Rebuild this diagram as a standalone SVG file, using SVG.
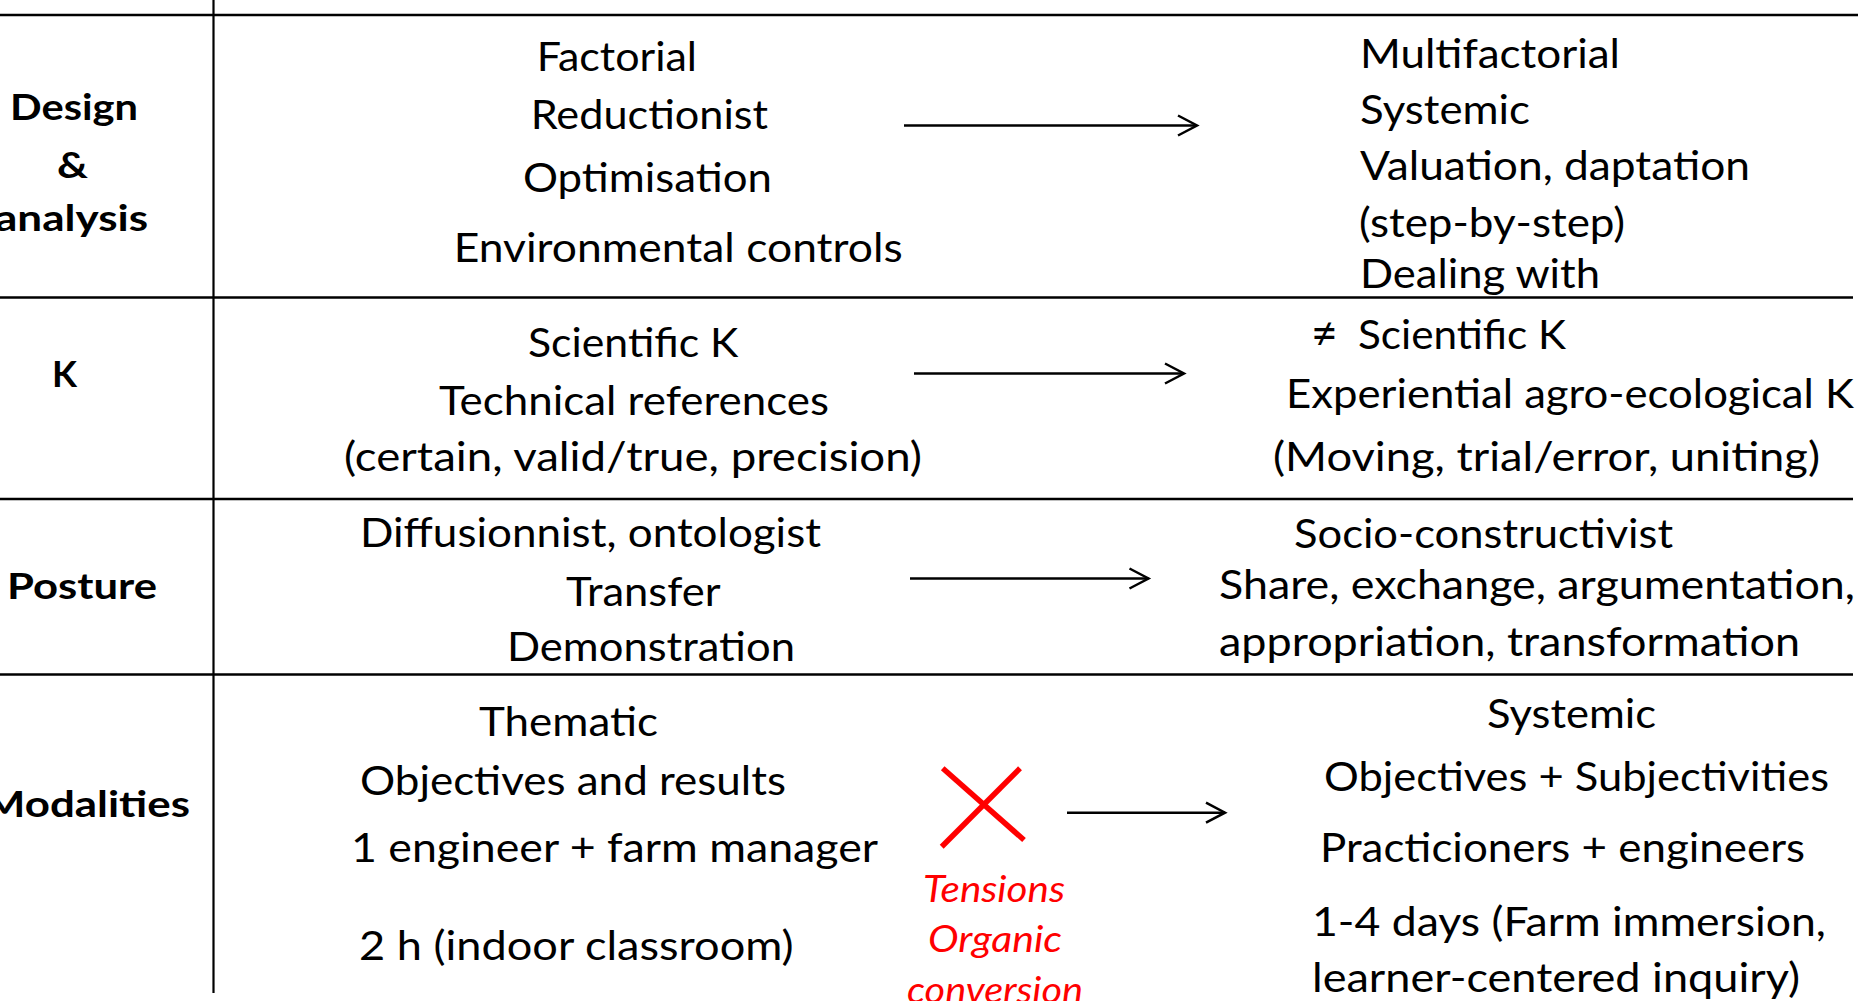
<svg xmlns="http://www.w3.org/2000/svg" width="1862" height="1001" viewBox="0 0 1862 1001">
<style>
text{font-family:Lato,"Liberation Sans",sans-serif;fill:#000;font-size:41px}
.b{font-weight:bold;font-size:37px}
.r{fill:#f00;font-style:italic;font-size:36px}
.grid line{stroke:#000;stroke-width:2.5}
.arr{stroke:#000;stroke-width:2.5;fill:none}
.x{stroke:#f00;stroke-width:5.5}
</style>
<defs>
<marker id="ah" markerUnits="userSpaceOnUse" viewBox="0 0 24 24" refX="21" refY="12" markerWidth="24" markerHeight="24" orient="auto">
<path d="M2,2 L21,12 L2,22" fill="none" stroke="#000" stroke-width="2.5"/>
</marker>
</defs>
<rect width="1862" height="1001" fill="#fff"/>
<g id="grid" class="grid">
<line x1="0" y1="15" x2="1858" y2="15"/>
<line x1="0" y1="297.5" x2="1853" y2="297.5"/>
<line x1="0" y1="499" x2="1853" y2="499"/>
<line x1="0" y1="674.5" x2="1853" y2="674.5"/>
<line x1="213.5" y1="0" x2="213.5" y2="993" style="stroke-width:2.2"/>
</g>
<g id="labels">
<g id="label-design">
<text class="b" x="10" y="120" textLength="128" lengthAdjust="spacingAndGlyphs">Design</text>
<text class="b" x="57" y="177.5" textLength="31" lengthAdjust="spacingAndGlyphs">&amp;</text>
<text class="b" x="-5" y="231" textLength="153" lengthAdjust="spacingAndGlyphs">analysis</text>
</g>
<g id="label-k"><text class="b" x="52" y="387" textLength="25" lengthAdjust="spacingAndGlyphs">K</text></g>
<g id="label-posture"><text class="b" x="7" y="598.5" textLength="150" lengthAdjust="spacingAndGlyphs">Posture</text></g>
<g id="label-modalities"><text class="b" x="-16" y="817" textLength="206" lengthAdjust="spacingAndGlyphs">Modalities</text></g>
</g>
<g id="design-before">
<text x="536.7" y="70.5" textLength="160.3" lengthAdjust="spacingAndGlyphs">Factorial</text>
<text x="530.7" y="129" textLength="237.3" lengthAdjust="spacingAndGlyphs">Reductionist</text>
<text x="523" y="191.5" textLength="249" lengthAdjust="spacingAndGlyphs">Optimisation</text>
<text x="453.7" y="261.7" textLength="449" lengthAdjust="spacingAndGlyphs">Environmental controls</text>
</g>
<g id="design-after">
<text x="1360" y="68.3" textLength="260" lengthAdjust="spacingAndGlyphs">Multifactorial</text>
<text x="1360" y="123.5" textLength="170" lengthAdjust="spacingAndGlyphs">Systemic</text>
<text x="1360" y="180" textLength="390" lengthAdjust="spacingAndGlyphs">Valuation, daptation</text>
<text x="1359" y="236.5" textLength="266" lengthAdjust="spacingAndGlyphs">(step-by-step)</text>
<text x="1360" y="288" textLength="240" lengthAdjust="spacingAndGlyphs">Dealing with</text>
</g>
<g id="k-before">
<text x="528" y="356.7" textLength="210.4" lengthAdjust="spacingAndGlyphs">Scientific K</text>
<text x="439" y="415" textLength="390" lengthAdjust="spacingAndGlyphs">Technical references</text>
<text x="344" y="471" textLength="578" lengthAdjust="spacingAndGlyphs">(certain, valid/true, precision)</text>
</g>
<g id="k-after">
<text y="349"><tspan x="1311" style="font-size:46px">≠ </tspan><tspan x="1358" textLength="208" lengthAdjust="spacingAndGlyphs">Scientific K</tspan></text>
<text x="1286" y="408.3" textLength="568" lengthAdjust="spacingAndGlyphs">Experiential agro-ecological K</text>
<text x="1273" y="471" textLength="547" lengthAdjust="spacingAndGlyphs">(Moving, trial/error, uniting)</text>
</g>
<g id="posture-before">
<text x="360" y="546.7" textLength="461" lengthAdjust="spacingAndGlyphs">Diffusionnist, ontologist</text>
<text x="566" y="606" textLength="154.6" lengthAdjust="spacingAndGlyphs">Transfer</text>
<text x="507" y="660.7" textLength="288" lengthAdjust="spacingAndGlyphs">Demonstration</text>
</g>
<g id="posture-after">
<text x="1294" y="547.5" textLength="379" lengthAdjust="spacingAndGlyphs">Socio-constructivist</text>
<text x="1219" y="599" textLength="636" lengthAdjust="spacingAndGlyphs">Share, exchange, argumentation,</text>
<text x="1219" y="656" textLength="581" lengthAdjust="spacingAndGlyphs">appropriation, transformation</text>
</g>
<g id="modalities-before">
<text x="479" y="736" textLength="179" lengthAdjust="spacingAndGlyphs">Thematic</text>
<text x="360" y="795" textLength="426" lengthAdjust="spacingAndGlyphs">Objectives and results</text>
<text x="351" y="861.7" textLength="527" lengthAdjust="spacingAndGlyphs">1 engineer + farm manager</text>
<text x="359" y="960" textLength="434.6" lengthAdjust="spacingAndGlyphs">2 h (indoor classroom)</text>
</g>
<g id="modalities-after">
<text x="1487" y="728.3" textLength="169" lengthAdjust="spacingAndGlyphs">Systemic</text>
<text x="1324" y="790.7" textLength="505" lengthAdjust="spacingAndGlyphs">Objectives + Subjectivities</text>
<text x="1320" y="861.7" textLength="485" lengthAdjust="spacingAndGlyphs">Practicioners + engineers</text>
<text x="1312" y="936" textLength="514" lengthAdjust="spacingAndGlyphs">1-4 days (Farm immersion,</text>
<text x="1312" y="992" textLength="488" lengthAdjust="spacingAndGlyphs">learner-centered inquiry)</text>
</g>
<g id="tensions">
<line class="x" x1="942.7" y1="768.3" x2="1024" y2="840"/>
<line class="x" x1="1020" y1="768.3" x2="941.7" y2="846.7"/>
<text class="r" x="923" y="901.7" textLength="142" lengthAdjust="spacingAndGlyphs">Tensions</text>
<text class="r" x="928" y="951.7" textLength="134" lengthAdjust="spacingAndGlyphs">Organic</text>
<text class="r" x="907" y="1003" textLength="176" lengthAdjust="spacingAndGlyphs">conversion</text>
</g>
<g id="connectors">
<line class="arr" x1="904" y1="125.5" x2="1197" y2="125.5" marker-end="url(#ah)"/>
<line class="arr" x1="914" y1="373.5" x2="1184" y2="373.5" marker-end="url(#ah)"/>
<line class="arr" x1="910" y1="578.5" x2="1148.5" y2="578.5" marker-end="url(#ah)"/>
<line class="arr" x1="1067" y1="812.7" x2="1225" y2="812.7" marker-end="url(#ah)"/>
</g>
</svg>
